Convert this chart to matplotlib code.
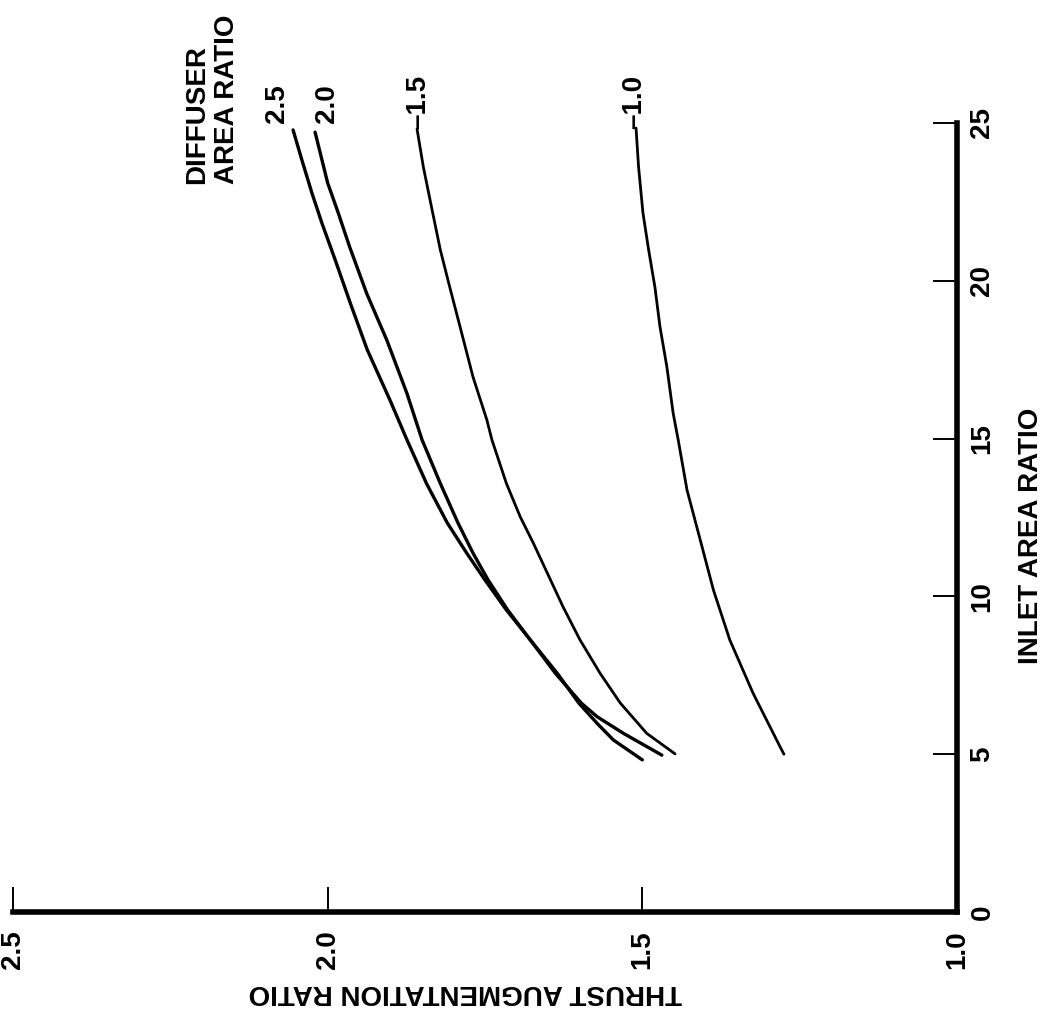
import matplotlib
matplotlib.use("Agg")
import matplotlib.pyplot as plt

plt.rcParams['font.family'] = ['Liberation Sans', 'DejaVu Sans']

# The chart is stored rotated 90 degrees: thrust ratio runs along the bottom
# (2.5 on the left), inlet area ratio runs up the right side.

# diffuser area ratio 2.5
inlet_25 = [4.97, 5.66, 6.19, 6.62, 7.56, 8.62, 9.57, 10.52, 11.37, 12.33, 13.58,
            14.96, 16.22, 17.81, 19.29, 20.66, 21.82, 22.78, 23.83, 24.78]
thrust_25 = [1.469, 1.530, 1.572, 1.597, 1.638, 1.678, 1.716, 1.750, 1.779, 1.810, 1.843,
             1.874, 1.901, 1.937, 1.964, 1.988, 2.009, 2.025, 2.041, 2.055]

# diffuser area ratio 2.0
inlet_20 = [4.82, 5.45, 5.98, 6.62, 7.56, 8.62, 9.57, 10.52, 11.37, 12.33, 13.58,
            14.96, 16.43, 18.12, 19.60, 21.07, 22.14, 23.10, 24.71]
thrust_20 = [1.500, 1.546, 1.572, 1.601, 1.635, 1.678, 1.714, 1.745, 1.769, 1.793, 1.821,
             1.850, 1.874, 1.906, 1.938, 1.965, 1.983, 2.000, 2.020]

# diffuser area ratio 1.5
inlet_15 = [5.01, 5.66, 6.62, 7.56, 8.62, 9.67, 10.74, 11.68, 12.52, 13.58, 14.96,
            15.59, 16.95, 18.34, 19.80, 20.98, 22.24, 23.61, 24.81]
thrust_15 = [1.448, 1.493, 1.535, 1.567, 1.599, 1.626, 1.651, 1.673, 1.694, 1.716, 1.739,
             1.747, 1.769, 1.787, 1.806, 1.821, 1.834, 1.848, 1.858]

# diffuser area ratio 1.0
inlet_10 = [5.0, 5.23, 6.93, 8.62, 10.20, 11.79, 13.37, 14.96, 15.80, 17.27, 18.55,
            19.80, 20.98, 22.15, 23.61, 24.84]
thrust_10 = [1.275, 1.281, 1.324, 1.361, 1.387, 1.408, 1.429, 1.443, 1.451, 1.461, 1.472,
             1.480, 1.490, 1.499, 1.506, 1.510]

thrust_ticks = [2.5, 2.0, 1.5, 1.0]
thrust_labels = ["2.5", "2.0", "1.5", "1.0"]
inlet_ticks = [0, 5, 10, 15, 20, 25]
inlet_labels = ["0", "5", "10", "15", "20", "25"]

W, H = 1052, 1025
fig = plt.figure(figsize=(W / 100, H / 100), dpi=100)
ax = fig.add_axes([13 / W, 1 - 912 / H, 944 / W, 789 / H])

ax.plot(thrust_25, inlet_25, color="black", lw=2.4, solid_capstyle="round", solid_joinstyle="round")
ax.plot(thrust_20, inlet_20, color="black", lw=2.4, solid_capstyle="round", solid_joinstyle="round")
ax.plot(thrust_15, inlet_15, color="black", lw=2.0, solid_capstyle="round", solid_joinstyle="round")
ax.plot(thrust_10, inlet_10, color="black", lw=2.0, solid_capstyle="round", solid_joinstyle="round")

ax.set_xlim(2.5, 1.0)
ax.set_ylim(0, 25)

for side in ["top", "left"]:
    ax.spines[side].set_visible(False)
for side in ["bottom", "right"]:
    ax.spines[side].set_linewidth(4)
    ax.spines[side].set_capstyle("projecting")

ax.yaxis.tick_right()
ax.set_xticks(thrust_ticks)
ax.set_xticklabels(thrust_labels, rotation=90, fontsize=20, fontweight="bold")
ax.set_yticks(inlet_ticks)
ax.set_yticklabels(inlet_labels, rotation=90, fontsize=20, fontweight="bold", va="center")
ax.tick_params(axis="x", direction="in", length=18, width=1.4, pad=13)
ax.tick_params(axis="y", direction="in", length=17, width=1.4, pad=9)

# curve labels at the top ends
lab = dict(rotation=90, fontsize=20, fontweight="bold", ha="center", va="bottom")
ax.text(2.080, 25.0, "2.5", **lab)
ax.text(2.001, 25.0, "2.0", **lab)
ax.text(1.856, 24.8, "\u20131.5", **lab)
ax.text(1.513, 24.8, "\u20131.0", **lab)

fig.text(212 / W, 1 - 99 / H, "DIFFUSER\nAREA RATIO", rotation=90, fontsize=20,
         fontweight="bold", ha="center", va="center", multialignment="left",
         linespacing=1.15)

fig.text(1031 / W, 1 - 536 / H, "INLET AREA RATIO", rotation=90, fontsize=20,
         fontweight="bold", ha="center", va="center")
fig.text(465 / W, 1 - 992 / H, "THRUST AUGMENTATION RATIO", rotation=180, fontsize=20,
         fontweight="bold", ha="center", va="center")

fig.savefig("out.png", dpi=100)
